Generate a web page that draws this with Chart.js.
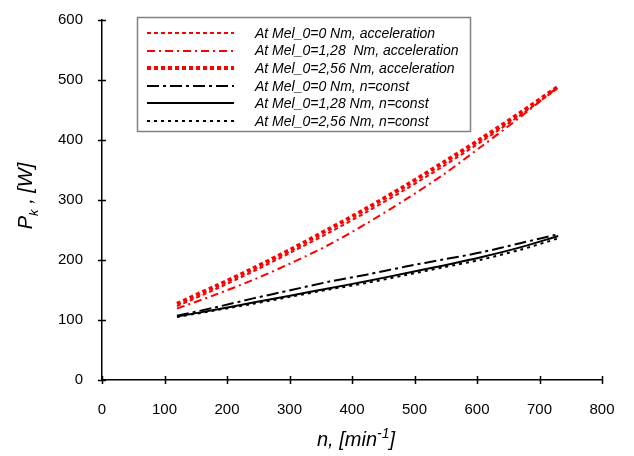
<!DOCTYPE html>
<html>
<head>
<meta charset="utf-8">
<script src="https://cdn.jsdelivr.net/npm/chart.js@4/dist/chart.umd.min.js"></script>
<style>
  html, body { margin: 0; padding: 0; background: #fff; }
  #wrap { width: 634px; height: 456px; position: relative; }
</style>
</head>
<body>
<div id="wrap"><canvas id="pkChart"></canvas></div>
<script>
// speed points, min^-1
const speeds = [120, 181, 242, 303, 364, 425, 486, 547, 608, 669, 730];

// power Pk, W
const accel0 = [123, 151, 181, 213, 246, 281, 318, 357, 398, 441, 487];
const accel128 = [119, 142, 167, 195, 226, 262, 301, 343, 390, 438, 489];
const accel256 = [127, 156, 186, 218, 252, 287, 324, 363, 403, 445, 489];
const const0 = [107, 121, 136, 150, 164, 176, 189, 201, 213, 228, 243];
const const128 = [106, 117, 129, 141, 153, 165, 178, 191, 205, 221, 240];
const const256 = [105, 116, 127, 139, 151, 162, 175, 188, 201, 217, 236];

const xTicks = [0, 100, 200, 300, 400, 500, 600, 700, 800];
const yTicks = [0, 100, 200, 300, 400, 500, 600];

const seriesLabels = [
    'At Mel_0=0 Nm, acceleration',
    'At Mel_0=1,28  Nm, acceleration',
    'At Mel_0=2,56 Nm, acceleration',
    'At Mel_0=0 Nm, n=const',
    'At Mel_0=1,28 Nm, n=const',
    'At Mel_0=2,56 Nm, n=const'
];

function pts(ys) {
    return speeds.map((n, i) => ({ x: n, y: ys[i] }));
}

const RED = '#ff0000';
const BLACK = '#000000';

const datasets = [
    { label: seriesLabels[0], data: pts(accel0), borderColor: RED, borderWidth: 2, borderDash: [4, 3] },
    { label: seriesLabels[1], data: pts(accel128), borderColor: RED, borderWidth: 2, borderDash: [8, 4, 2, 4] },
    { label: seriesLabels[2], data: pts(accel256), borderColor: RED, borderWidth: 4, borderDash: [4, 3] },
    { label: seriesLabels[3], data: pts(const0), borderColor: BLACK, borderWidth: 2, borderDash: [12, 4, 3, 4] },
    { label: seriesLabels[4], data: pts(const128), borderColor: BLACK, borderWidth: 2 },
    { label: seriesLabels[5], data: pts(const256), borderColor: BLACK, borderWidth: 2, borderDash: [3, 4] }
].map(d => Object.assign(d, { pointRadius: 0, fill: false, tension: 0.3, borderCapStyle: 'butt' }));

const font = "'Liberation Sans', Arial, sans-serif";

// legend box, axis titles and crossing ticks, Excel style
const extras = {
    id: 'extras',
    afterDraw(chart) {
        const ctx = chart.ctx;
        const area = chart.chartArea;
        const xs = chart.scales.x, ys = chart.scales.y;
        ctx.save();

        // ticks crossing the axes
        ctx.strokeStyle = '#000';
        ctx.lineWidth = 1.5;
        ctx.beginPath();
        xTicks.forEach(v => {
            const px = Math.round(xs.getPixelForValue(v)) + 0.5;
            ctx.moveTo(px, area.bottom - 4);
            ctx.lineTo(px, area.bottom + 4);
        });
        yTicks.forEach(v => {
            const py = Math.round(ys.getPixelForValue(v)) + 0.5;
            ctx.moveTo(area.left - 4, py);
            ctx.lineTo(area.left + 4, py);
        });
        ctx.stroke();

        // legend
        const lx = 137, ly = 17, lw = 333, lh = 114;
        ctx.fillStyle = '#fff';
        ctx.fillRect(lx, ly, lw, lh);
        ctx.strokeStyle = '#808080';
        ctx.lineWidth = 1.5;
        ctx.strokeRect(lx + 0.5, ly + 0.5, lw, lh);
        ctx.font = "italic 14px " + font;
        ctx.textBaseline = 'middle';
        chart.data.datasets.forEach((ds, i) => {
            const y = ly + 16 + 17.6 * i;
            const yy = Math.round(y) + (ds.borderWidth % 2 ? 0.5 : 0);
            ctx.strokeStyle = ds.borderColor;
            ctx.lineWidth = ds.borderWidth;
            ctx.lineCap = 'butt';
            ctx.setLineDash(ds.borderDash || []);
            ctx.beginPath();
            ctx.moveTo(147, yy);
            ctx.lineTo(234, yy);
            ctx.stroke();
            ctx.setLineDash([]);
            ctx.fillStyle = '#000';
            ctx.textAlign = 'left';
            ctx.fillText(ds.label, 255, y + 1);
        });

        // x axis title: n, [min^-1]
        ctx.fillStyle = '#000';
        ctx.textBaseline = 'alphabetic';
        const t1 = 'n, [min', sup = '-1', t2 = ']';
        ctx.font = "italic 20px " + font;
        const w1 = ctx.measureText(t1).width, w3 = ctx.measureText(t2).width;
        ctx.font = "italic 14px " + font;
        const w2 = ctx.measureText(sup).width;
        const x0 = 356 - (w1 + w2 + w3) / 2;
        const base = 446;
        ctx.textAlign = 'left';
        ctx.font = "italic 20px " + font;
        ctx.fillText(t1, x0, base);
        ctx.font = "italic 14px " + font;
        ctx.fillText(sup, x0 + w1, base - 8);
        ctx.font = "italic 20px " + font;
        ctx.fillText(t2, x0 + w1 + w2, base);

        // y axis title: P_k , [W]
        ctx.translate(24, 196);
        ctx.rotate(-Math.PI / 2);
        const a = 'P', b = 'k', c = ' , [W]';
        ctx.font = "italic 20px " + font;
        const wa = ctx.measureText(a).width, wc = ctx.measureText(c).width;
        ctx.font = "italic 13px " + font;
        const wb = ctx.measureText(b).width;
        const s = -(wa + wb + wc) / 2;
        ctx.font = "italic 20px " + font;
        ctx.fillText(a, s, 8);
        ctx.font = "italic 13px " + font;
        ctx.fillText(b, s + wa, 14);
        ctx.font = "italic 20px " + font;
        ctx.fillText(c, s + wa + wb, 8);

        ctx.restore();
    }
};

new Chart(document.getElementById('pkChart'), {
    type: 'line',
    data: { datasets: datasets },
    options: {
        responsive: true,
        maintainAspectRatio: false,
        animation: false,
        layout: { padding: { top: 17, right: 32, left: 0, bottom: 0 } },
        plugins: {
            legend: { display: false },
            tooltip: { enabled: false }
        },
        scales: {
            x: {
                type: 'linear',
                min: 0,
                max: 800,
                afterBuildTicks: s => { s.ticks = xTicks.map(v => ({ value: v })); },
                afterFit: s => { s.height = 76; },
                border: { color: '#000', width: 1.5 },
                grid: { display: false },
                ticks: { color: '#000', font: { family: font, size: 15 }, padding: 13, maxRotation: 0 }
            },
            y: {
                min: 0,
                max: 600,
                afterBuildTicks: s => { s.ticks = yTicks.map(v => ({ value: v })); },
                afterFit: s => { s.width = 102; },
                border: { color: '#000', width: 1.5 },
                grid: { display: false },
                ticks: { color: '#000', font: { family: font, size: 15 }, padding: 11 }
            }
        }
    },
    plugins: [extras]
});
</script>
</body>
</html>
